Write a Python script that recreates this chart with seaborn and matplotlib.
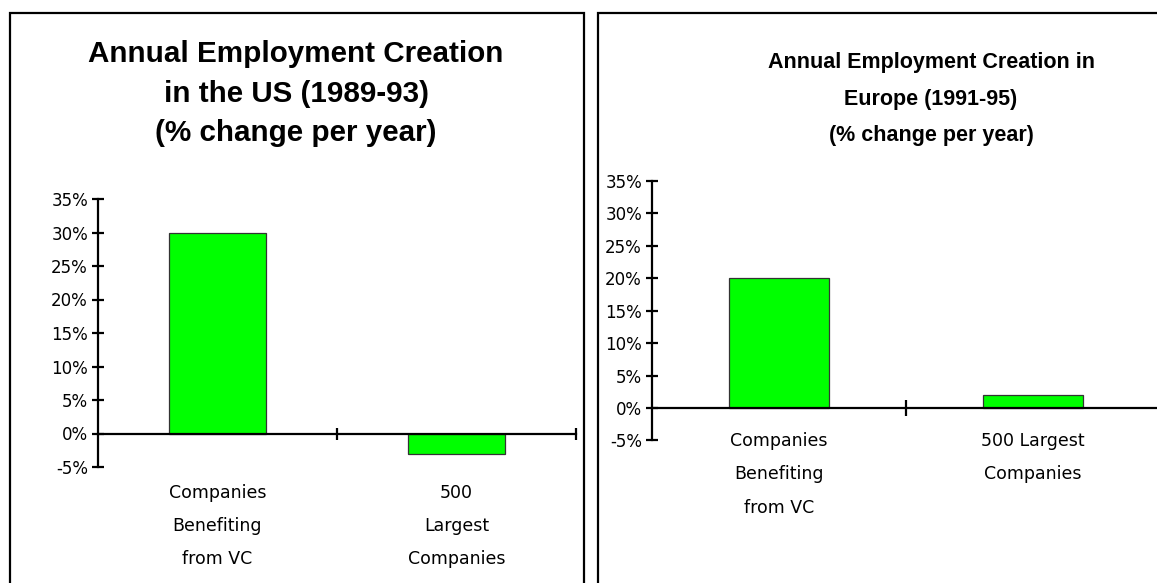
import matplotlib
matplotlib.use("Agg")
import matplotlib.pyplot as plt
from matplotlib.patches import Rectangle
from matplotlib.ticker import FixedLocator, FuncFormatter
import seaborn as sns

# ---------------- data ----------------
us_categories = ["Companies\nBenefiting\nfrom VC", "500\nLargest\nCompanies"]
us_values = [30, -3]
eu_categories = ["Companies\nBenefiting\nfrom VC", "500 Largest\nCompanies"]
eu_values = [20, 2]
us_title = ["Annual Employment Creation", "in the US (1989-93)", "(% change per year)"]
eu_title = ["Annual Employment Creation in", "Europe (1991-95)", "(% change per year)"]
y_ticks = [-5, 0, 5, 10, 15, 20, 25, 30, 35]

sns.set_style("white")
plt.rcParams["font.family"] = ["DejaVu Sans"]
plt.rcParams["text.color"] = "black"
plt.rcParams["xtick.color"] = "black"
plt.rcParams["ytick.color"] = "black"
plt.rcParams["xtick.labelcolor"] = "black"
plt.rcParams["ytick.labelcolor"] = "black"

W, H = 1157, 583
fig = plt.figure(figsize=(W / 100, H / 100), dpi=100)

BAR_COLOR = "#00FF00"


def fx(px):
    return px / W


def fy(py):
    return 1 - py / H


def make_panel(rect, cats, vals, width, xtick_len, cat_pad, ls):
    ax = fig.add_axes(rect)
    sns.barplot(x=cats, y=vals, ax=ax, width=width, color=BAR_COLOR,
                edgecolor="#333333", linewidth=0.9, saturation=1)
    for b in ax.patches:
        b.set_facecolor(BAR_COLOR)
    ax.set_xlim(-0.5, 1.5)
    ax.set_ylim(-5, 35)
    ax.set_facecolor("none")
    for s in ["top", "right"]:
        ax.spines[s].set_visible(False)
    ax.spines["bottom"].set_position(("data", 0))
    ax.spines["bottom"].set_linewidth(1.6)
    ax.spines["left"].set_linewidth(1.6)
    ax.spines["bottom"].set_color("black")
    ax.spines["left"].set_color("black")
    ax.spines["left"].set_bounds(-5, 35)
    # y ticks
    ax.set_yticks(y_ticks)
    ax.yaxis.set_major_formatter(FuncFormatter(lambda v, p: f"{int(v)}%"))
    ax.tick_params(axis="y", direction="inout", length=8, width=1.6,
                   labelsize=12, pad=3.2, colors="black", left=True)
    # x ticks: boundaries as major ticks, category labels as minor ticks
    ax.xaxis.set_major_locator(FixedLocator([0.5, 1.5]))
    ax.xaxis.set_major_formatter(FuncFormatter(lambda v, p: ""))
    ax.xaxis.set_minor_locator(FixedLocator([0, 1]))
    ax.set_xticks([0, 1], labels=cats, minor=True)
    ax.tick_params(axis="x", which="major", direction="inout",
                   length=xtick_len, width=1.6, colors="black", bottom=True)
    ax.tick_params(axis="x", which="minor", length=0, pad=cat_pad,
                   labelsize=12.5, bottom=True, labelcolor="black")
    for t in ax.get_xticklabels(minor=True):
        t.set_linespacing(ls)
        t.set_color("black")
    ax.set_xlabel("")
    ax.set_ylabel("")
    return ax


# left panel (US)
ax1 = make_panel([fx(98), fy(467), fx(576 - 98), (467 - 199) / H],
                 us_categories, us_values, 0.406, 9, 36.5, 2.08)
# right panel (Europe)
ax2 = make_panel([fx(652), fy(440.4), fx(1160 - 652), (440.4 - 181) / H],
                 eu_categories, eu_values, 0.394, 12, 17.5, 2.08)

# titles
for txt, yb in zip(us_title, [62, 102, 141]):
    fig.text(fx(296), fy(yb), txt, ha="center", va="baseline", color="black",
             fontsize=21.3, fontweight="bold", family="Liberation Sans")
for txt, yb in zip(eu_title, [68, 105, 141]):
    fig.text(fx(931), fy(yb), txt, ha="center", va="baseline", color="black",
             fontsize=15.5, fontweight="bold", family="Liberation Sans")

# panel borders
fig.patches.append(Rectangle((fx(10), -0.1), fx(584 - 10), fy(13) + 0.1,
                             transform=fig.transFigure, fill=False,
                             edgecolor="black", linewidth=1.6))
fig.patches.append(Rectangle((fx(598), -0.1), fx(700), fy(13) + 0.1,
                             transform=fig.transFigure, fill=False,
                             edgecolor="black", linewidth=1.6))

fig.savefig("out.png", dpi=100)
